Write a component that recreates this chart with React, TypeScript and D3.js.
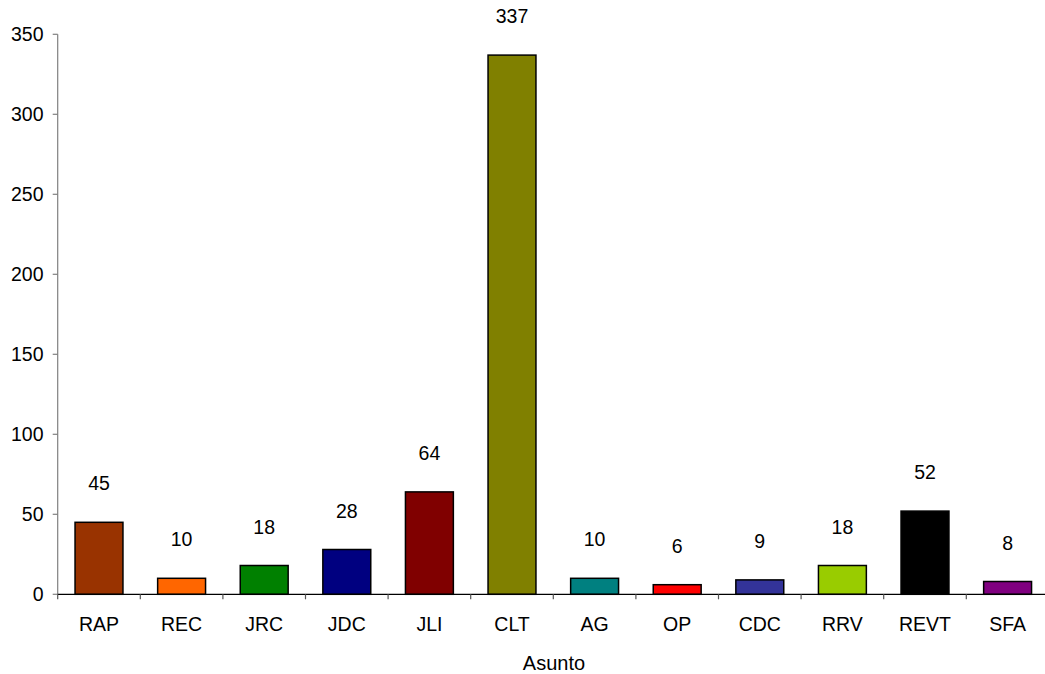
import React from "react";
import * as d3 from "d3";

const categories = ["RAP", "REC", "JRC", "JDC", "JLI", "CLT", "AG", "OP", "CDC", "RRV", "REVT", "SFA"];
const values = [45, 10, 18, 28, 64, 337, 10, 6, 9, 18, 52, 8];
const colors = ["#993300", "#FF6600", "#008000", "#000080", "#800000", "#808000", "#008080", "#FF0000", "#333399", "#99CC00", "#000000", "#800080"];
const yTicks = [0, 50, 100, 150, 200, 250, 300, 350];
const xTitle = "Asunto";

export default function App() {
  const W = 1045, H = 674;
  const left = 57.7, right = 1048.9, top = 34.3, bottom = 594.3;
  const x = d3.scaleBand<string>().domain(categories).range([left, right]).paddingInner(0.42).paddingOuter(0.21);
  const y = d3.scaleLinear().domain([0, 350]).range([bottom, top]);
  const band = (right - left) / categories.length;
  const font = "Arial, 'Liberation Sans', sans-serif";
  return (
    <svg width={W} height={H} style={{ position: "absolute", left: 0, top: 0, display: "block" }} fontFamily={font}>
      {/* y axis */}
      <line x1={left} x2={left} y1={top} y2={bottom} stroke="#808080" strokeWidth={1.2} />
      {yTicks.map((t) => (
        <g key={t}>
          <line x1={left - 5} x2={left} y1={y(t)} y2={y(t)} stroke="#808080" strokeWidth={1.2} />
          <text x={43.5} y={y(t)} dy="0.36em" textAnchor="end" fontSize={19.5} fill="#000">{t}</text>
        </g>
      ))}
      {/* bars */}
      {categories.map((c, i) => (
        <g key={c}>
          <rect x={x(c)} y={y(values[i])} width={x.bandwidth()} height={bottom - y(values[i])} fill={colors[i]} stroke="#000" strokeWidth={1.5} />
          <text x={(x(c) as number) + x.bandwidth() / 2} y={y(values[i]) - 32} textAnchor="middle" fontSize={19.5} fill="#000">{values[i]}</text>
          <text x={(x(c) as number) + x.bandwidth() / 2} y={631} textAnchor="middle" fontSize={19.5} fill="#000">{c}</text>
        </g>
      ))}
      {/* x axis */}
      <line x1={left} x2={right} y1={bottom} y2={bottom} stroke="#000" strokeWidth={1.2} />
      {d3.range(categories.length + 1).map((i) => (
        <line key={i} x1={left + i * band} x2={left + i * band} y1={bottom} y2={bottom + 5} stroke="#555" strokeWidth={1.2} />
      ))}
      <text x={554} y={670} textAnchor="middle" fontSize={20} fill="#000">{xTitle}</text>
    </svg>
  );
}
